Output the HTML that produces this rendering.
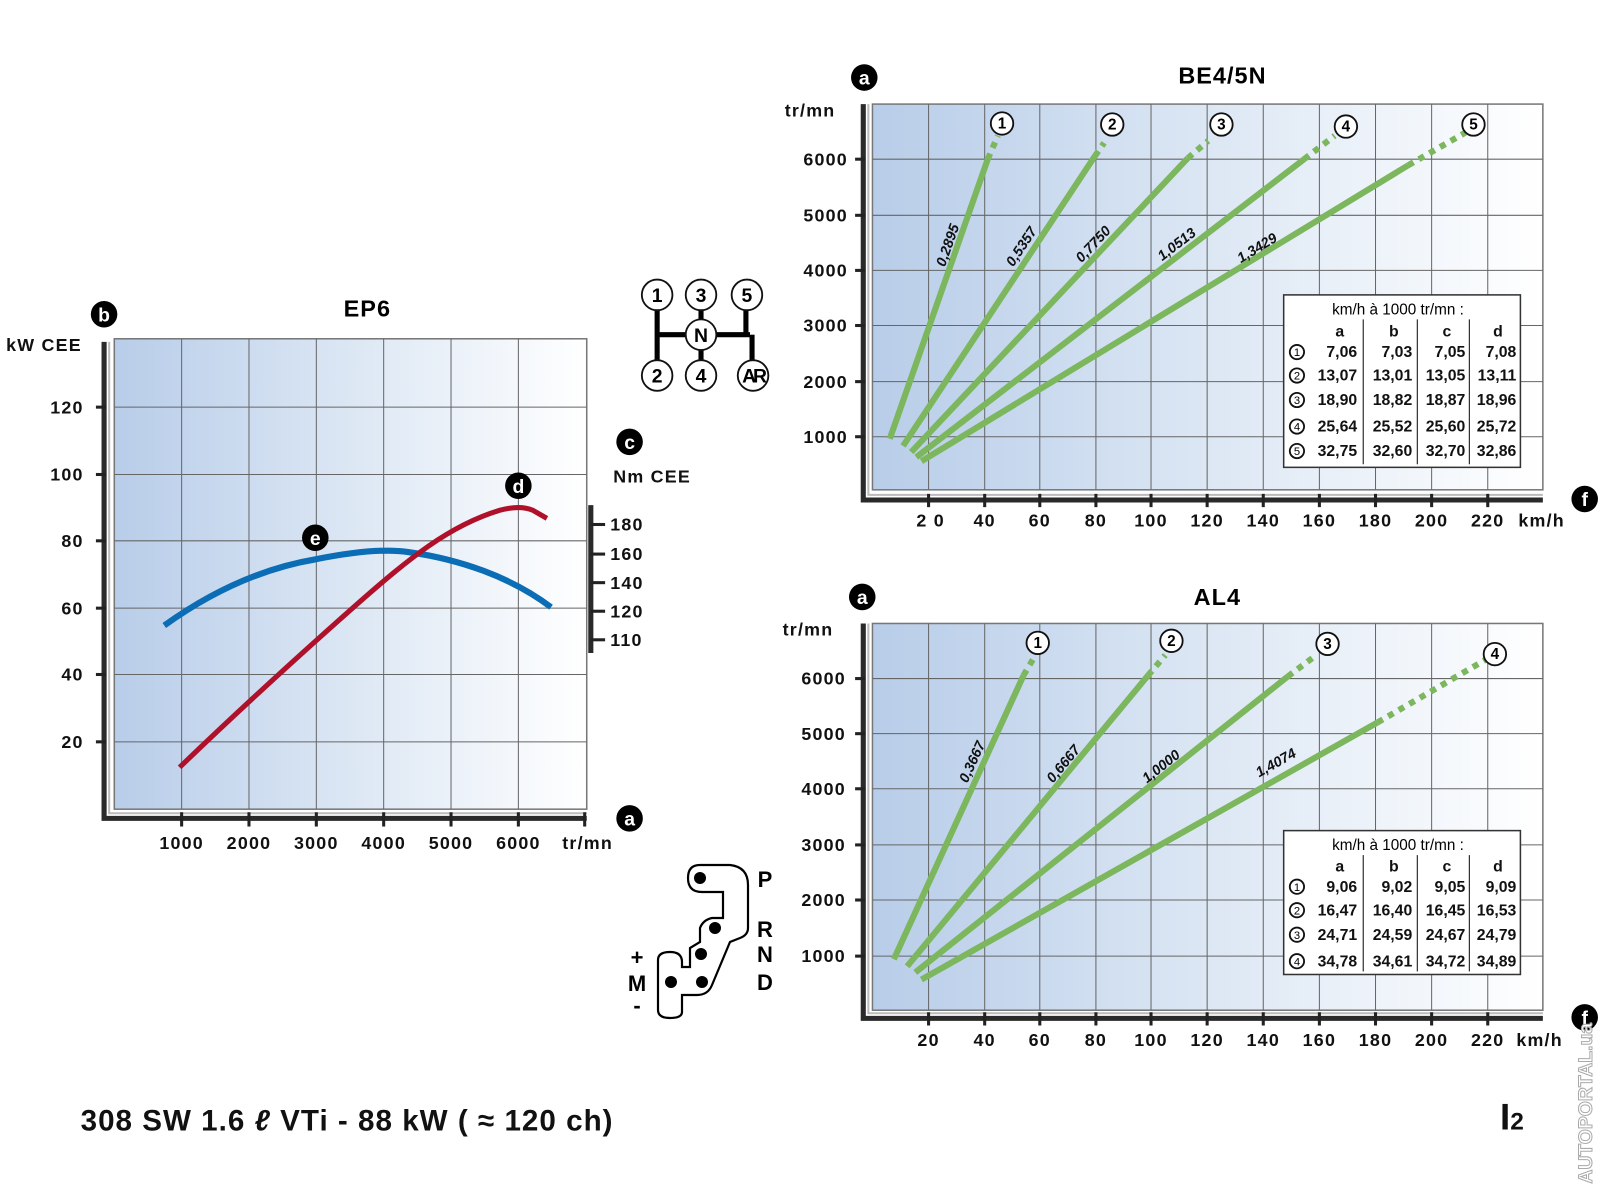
<!DOCTYPE html>
<html><head><meta charset="utf-8"><style>
html,body{margin:0;padding:0;background:#fff;}
svg{display:block;font-family:"Liberation Sans",Arial,sans-serif;}
.t{font-weight:bold;font-size:17.5px;fill:#111;letter-spacing:1.2px;}
.g{stroke:#666;stroke-width:1;}
.ax{stroke:#2a2a2a;stroke-width:5;fill:none;}
.ax2{stroke:#bbb;stroke-width:2;fill:none;}
.gr{stroke:#7cb65d;stroke-width:6;stroke-linecap:butt;fill:none;}
.gd{stroke:#7cb65d;stroke-width:6;stroke-dasharray:6 6;fill:none;}
.lb{font-size:14px;font-style:italic;font-weight:bold;fill:#111;}
.tb{font-size:15.5px;font-weight:bold;fill:#111;}
.cn{fill:#fff;stroke:#111;stroke-width:1.8;}
</style></head><body>
<svg width="1600" height="1200" viewBox="0 0 1568 1176" xmlns="http://www.w3.org/2000/svg">
<defs>
<linearGradient id="bg" x1="0" y1="0" x2="1" y2="0">
<stop offset="0" stop-color="#b8cde9"/><stop offset="0.5" stop-color="#dce7f4"/><stop offset="1" stop-color="#ffffff"/>
</linearGradient>
</defs>
<rect width="1568" height="1176" fill="#fff"/>

<!-- ===== EP6 ===== -->
<rect x="112" y="332" width="463" height="461" fill="url(#bg)" stroke="#777" stroke-width="1.5"/>
<g class="g">
<line x1="178" y1="332" x2="178" y2="793"/><line x1="244" y1="332" x2="244" y2="793"/><line x1="310" y1="332" x2="310" y2="793"/><line x1="376" y1="332" x2="376" y2="793"/><line x1="442" y1="332" x2="442" y2="793"/><line x1="508" y1="332" x2="508" y2="793"/>
<line x1="112" y1="399" x2="575" y2="399"/><line x1="112" y1="465" x2="575" y2="465"/><line x1="112" y1="530" x2="575" y2="530"/><line x1="112" y1="596" x2="575" y2="596"/><line x1="112" y1="661" x2="575" y2="661"/><line x1="112" y1="727" x2="575" y2="727"/>
</g>
<polyline class="ax" points="102,335 102,802 575,802"/>
<polyline class="ax2" points="107,335 107,797 575,797"/>
<g stroke="#222" stroke-width="3">
<line x1="94" y1="399" x2="104" y2="399"/><line x1="94" y1="465" x2="104" y2="465"/><line x1="94" y1="530" x2="104" y2="530"/><line x1="94" y1="596" x2="104" y2="596"/><line x1="94" y1="661" x2="104" y2="661"/><line x1="94" y1="727" x2="104" y2="727"/>
<line x1="178" y1="796" x2="178" y2="810"/><line x1="244" y1="796" x2="244" y2="810"/><line x1="310" y1="796" x2="310" y2="810"/><line x1="376" y1="796" x2="376" y2="810"/><line x1="442" y1="796" x2="442" y2="810"/><line x1="508" y1="796" x2="508" y2="810"/><line x1="573" y1="796" x2="573" y2="810"/>
</g>
<g class="t" text-anchor="end">
<text x="82" y="405">120</text><text x="82" y="471">100</text><text x="82" y="536">80</text><text x="82" y="602">60</text><text x="82" y="667">40</text><text x="82" y="733">20</text>
</g>
<text class="t" x="6" y="344">kW CEE</text>
<g class="t" text-anchor="middle">
<text x="178" y="832">1000</text><text x="244" y="832">2000</text><text x="310" y="832">3000</text><text x="376" y="832">4000</text><text x="442" y="832">5000</text><text x="508" y="832">6000</text>
</g>
<text class="t" x="551" y="832">tr/mn</text>
<text x="360" y="310" text-anchor="middle" style="font-weight:bold;font-size:23px;letter-spacing:1px">EP6</text>
<!-- right axis -->
<line x1="579" y1="495" x2="579" y2="640" stroke="#2a2a2a" stroke-width="5"/>
<g stroke="#222" stroke-width="3"><line x1="579" y1="514" x2="593" y2="514"/><line x1="579" y1="543" x2="593" y2="543"/><line x1="579" y1="571" x2="593" y2="571"/><line x1="579" y1="599" x2="593" y2="599"/><line x1="579" y1="627" x2="593" y2="627"/></g>
<g class="t"><text x="598" y="520">180</text><text x="598" y="549">160</text><text x="598" y="577">140</text><text x="598" y="605">120</text><text x="598" y="633">110</text></g>
<text class="t" x="601" y="473">Nm CEE</text>
<!-- curves -->
<path d="M161,613 C200,585 250,558 310,548 C350,540 380,538 400,541 C450,548 500,565 540,595" fill="none" stroke="#0a6db5" stroke-width="6"/>
<path d="M176,752 C230,700 290,645 350,592 C400,548 440,515 490,500 C505,496 515,497 522,500 L536,508" fill="none" stroke="#b0112a" stroke-width="5"/>
<!-- letter badges -->
<g style="font-weight:bold;font-size:19px" text-anchor="middle">
<circle cx="102" cy="308" r="13" fill="#000"/><text x="102" y="315" fill="#fff">b</text>
<circle cx="617" cy="433" r="13" fill="#000"/><text x="617" y="440" fill="#fff">c</text>
<circle cx="617" cy="802" r="13" fill="#000"/><text x="617" y="809" fill="#fff">a</text>
<circle cx="508" cy="476" r="13" fill="#000"/><text x="508" y="483" fill="#fff">d</text>
<circle cx="309" cy="527" r="13" fill="#000"/><text x="309" y="534" fill="#fff">e</text>
<circle cx="847" cy="76" r="13" fill="#000"/><text x="847" y="83" fill="#fff">a</text>
<circle cx="845" cy="585" r="13" fill="#000"/><text x="845" y="592" fill="#fff">a</text>
<circle cx="1553" cy="489" r="13" fill="#000"/><text x="1553" y="496" fill="#fff">f</text>
<circle cx="1553" cy="997" r="13" fill="#000"/><text x="1553" y="1004" fill="#fff">f</text>
</g>

<!-- manual shifter -->
<g stroke="#000" stroke-width="5" fill="none">
<line x1="644" y1="300" x2="644" y2="356"/><line x1="644" y1="328" x2="735" y2="328"/><line x1="687" y1="300" x2="687" y2="356"/><line x1="731" y1="300" x2="731" y2="328"/><line x1="737" y1="328" x2="737" y2="356"/>
</g>
<g style="font-weight:bold;font-size:19px" text-anchor="middle">
<circle class="cn" cx="644" cy="289" r="15"/><text x="644" y="296">1</text>
<circle class="cn" cx="687" cy="289" r="15"/><text x="687" y="296">3</text>
<circle class="cn" cx="732" cy="289" r="15"/><text x="732" y="296">5</text>
<circle class="cn" cx="687" cy="328" r="15"/><text x="687" y="335">N</text>
<circle class="cn" cx="644" cy="368" r="15"/><text x="644" y="375">2</text>
<circle class="cn" cx="687" cy="368" r="15"/><text x="687" y="375">4</text>
<circle class="cn" cx="738" cy="368" r="15"/><text x="738" y="375" style="letter-spacing:-3px">AR</text>
</g>

<!-- automatic shifter -->
<g transform="scale(0.98)">
<path d="M700,865 L730,865 Q748,867 748,885 L748,928 Q748,935 740,938 L730,942 L712,985 Q708,995 697,995 L682,995 L682,1012 Q682,1018 670,1018 Q658,1018 658,1010 L658,960 Q658,952 670,952 Q682,952 682,962 L682,967 L690,967 L690,948 L700,942 L700,928 Q703,920 712,918 L723,918 L723,892 L702,892 Q688,892 688,878 Q688,865 700,865 Z" fill="none" stroke="#000" stroke-width="2.2"/>
<circle cx="700" cy="878" r="6"/><circle cx="715" cy="928" r="6"/><circle cx="701" cy="954" r="6"/><circle cx="671" cy="982" r="6"/><circle cx="702" cy="982" r="6"/>
<g style="font-weight:bold;font-size:22px" text-anchor="middle">
<text x="765" y="887">P</text><text x="765" y="937">R</text><text x="765" y="962">N</text><text x="765" y="990">D</text>
<text x="637" y="965">+</text><text x="637" y="991">M</text><text x="637" y="1013">-</text>
</g>
</g>

<!-- ===== BE4/5N ===== -->
<rect x="855" y="102" width="657" height="378" fill="url(#bg)" stroke="#777" stroke-width="1.5"/>
<g class="g">
<line x1="910" y1="102" x2="910" y2="480"/><line x1="965" y1="102" x2="965" y2="480"/><line x1="1019" y1="102" x2="1019" y2="480"/><line x1="1074" y1="102" x2="1074" y2="480"/><line x1="1128" y1="102" x2="1128" y2="480"/><line x1="1183" y1="102" x2="1183" y2="480"/><line x1="1238" y1="102" x2="1238" y2="480"/><line x1="1293" y1="102" x2="1293" y2="480"/><line x1="1348" y1="102" x2="1348" y2="480"/><line x1="1403" y1="102" x2="1403" y2="480"/><line x1="1458" y1="102" x2="1458" y2="480"/>
<line x1="855" y1="156" x2="1512" y2="156"/><line x1="855" y1="211" x2="1512" y2="211"/><line x1="855" y1="265" x2="1512" y2="265"/><line x1="855" y1="319" x2="1512" y2="319"/><line x1="855" y1="374" x2="1512" y2="374"/><line x1="855" y1="428" x2="1512" y2="428"/>
</g>
<polyline class="ax" points="846,102 846,490 1512,490"/>
<polyline class="ax2" points="851,102 851,485 1512,485"/>
<g stroke="#222" stroke-width="3">
<line x1="838" y1="156" x2="848" y2="156"/><line x1="838" y1="211" x2="848" y2="211"/><line x1="838" y1="265" x2="848" y2="265"/><line x1="838" y1="319" x2="848" y2="319"/><line x1="838" y1="374" x2="848" y2="374"/><line x1="838" y1="428" x2="848" y2="428"/>
<line x1="910" y1="484" x2="910" y2="497"/><line x1="965" y1="484" x2="965" y2="497"/><line x1="1019" y1="484" x2="1019" y2="497"/><line x1="1074" y1="484" x2="1074" y2="497"/><line x1="1128" y1="484" x2="1128" y2="497"/><line x1="1183" y1="484" x2="1183" y2="497"/><line x1="1238" y1="484" x2="1238" y2="497"/><line x1="1293" y1="484" x2="1293" y2="497"/><line x1="1348" y1="484" x2="1348" y2="497"/><line x1="1403" y1="484" x2="1403" y2="497"/><line x1="1458" y1="484" x2="1458" y2="497"/>
</g>
<g class="t" text-anchor="end">
<text x="831" y="162">6000</text><text x="831" y="217">5000</text><text x="831" y="271">4000</text><text x="831" y="325">3000</text><text x="831" y="380">2000</text><text x="831" y="434">1000</text>
</g>
<text class="t" x="769" y="114">tr/mn</text>
<g class="t" text-anchor="middle">
<text x="912" y="516">2 0</text><text x="965" y="516">40</text><text x="1019" y="516">60</text><text x="1074" y="516">80</text><text x="1128" y="516">100</text><text x="1183" y="516">120</text><text x="1238" y="516">140</text><text x="1293" y="516">160</text><text x="1348" y="516">180</text><text x="1403" y="516">200</text><text x="1458" y="516">220</text>
</g>
<text class="t" x="1488" y="516">km/h</text>
<text x="1198" y="82" text-anchor="middle" style="font-weight:bold;font-size:23px;letter-spacing:1px">BE4/5N</text>
<line class="gr" x1="872" y1="430" x2="968" y2="156"/><line class="gd" x1="968" y1="156" x2="978" y2="133"/>
<line class="gr" x1="885" y1="437" x2="1073" y2="153"/><line class="gd" x1="1073" y1="153" x2="1082" y2="140"/>
<line class="gr" x1="893" y1="443" x2="1164" y2="155"/><line class="gd" x1="1164" y1="155" x2="1184" y2="138"/>
<line class="gr" x1="898" y1="448" x2="1278" y2="156"/><line class="gd" x1="1278" y1="156" x2="1308" y2="133"/>
<line class="gr" x1="903" y1="452" x2="1380" y2="162"/><line class="gd" x1="1380" y1="162" x2="1436" y2="130"/>
<g class="lb">
<text transform="translate(926,262) rotate(-70.7)">0,2895</text>
<text transform="translate(993,262) rotate(-56.5)">0,5357</text>
<text transform="translate(1060,258) rotate(-46.7)">0,7750</text>
<text transform="translate(1139,256) rotate(-37.5)">1,0513</text>
<text transform="translate(1216,258) rotate(-31.3)">1,3429</text>
</g>
<g style="font-weight:bold;font-size:15px" text-anchor="middle">
<circle class="cn" cx="982" cy="121" r="11"/><text x="982" y="126">1</text>
<circle class="cn" cx="1090" cy="122" r="11"/><text x="1090" y="127">2</text>
<circle class="cn" cx="1197" cy="122" r="11"/><text x="1197" y="127">3</text>
<circle class="cn" cx="1319" cy="124" r="11"/><text x="1319" y="129">4</text>
<circle class="cn" cx="1444" cy="122" r="11"/><text x="1444" y="127">5</text>
</g>
<!-- table 1 -->
<rect x="1258" y="289" width="232" height="169" fill="#fff" stroke="#333" stroke-width="1.5"/>
<text x="1370" y="308" text-anchor="middle" style="font-size:15px">km/h à 1000 tr/mn :</text>
<g stroke="#333" stroke-width="1.2"><line x1="1336" y1="313" x2="1336" y2="455"/><line x1="1389" y1="313" x2="1389" y2="455"/><line x1="1440" y1="313" x2="1440" y2="455"/></g>
<g class="tb" text-anchor="middle"><text x="1313" y="330">a</text><text x="1366" y="330">b</text><text x="1418" y="330">c</text><text x="1468" y="330">d</text></g>
<g style="font-size:11px" text-anchor="middle">
<circle class="cn" cx="1271" cy="345" r="7" stroke-width="1.2"/><text x="1271" y="349">1</text>
<circle class="cn" cx="1271" cy="368" r="7" stroke-width="1.2"/><text x="1271" y="372">2</text>
<circle class="cn" cx="1271" cy="392" r="7" stroke-width="1.2"/><text x="1271" y="396">3</text>
<circle class="cn" cx="1271" cy="418" r="7" stroke-width="1.2"/><text x="1271" y="422">4</text>
<circle class="cn" cx="1271" cy="442" r="7" stroke-width="1.2"/><text x="1271" y="446">5</text>
</g>
<g class="tb" text-anchor="end">
<text x="1330" y="350">7,06</text><text x="1384" y="350">7,03</text><text x="1436" y="350">7,05</text><text x="1486" y="350">7,08</text>
<text x="1330" y="373">13,07</text><text x="1384" y="373">13,01</text><text x="1436" y="373">13,05</text><text x="1486" y="373">13,11</text>
<text x="1330" y="397">18,90</text><text x="1384" y="397">18,82</text><text x="1436" y="397">18,87</text><text x="1486" y="397">18,96</text>
<text x="1330" y="423">25,64</text><text x="1384" y="423">25,52</text><text x="1436" y="423">25,60</text><text x="1486" y="423">25,72</text>
<text x="1330" y="447">32,75</text><text x="1384" y="447">32,60</text><text x="1436" y="447">32,70</text><text x="1486" y="447">32,86</text>
</g>

<!-- ===== AL4 ===== -->
<rect x="855" y="611" width="657" height="379" fill="url(#bg)" stroke="#777" stroke-width="1.5"/>
<g class="g">
<line x1="910" y1="611" x2="910" y2="990"/><line x1="965" y1="611" x2="965" y2="990"/><line x1="1019" y1="611" x2="1019" y2="990"/><line x1="1074" y1="611" x2="1074" y2="990"/><line x1="1128" y1="611" x2="1128" y2="990"/><line x1="1183" y1="611" x2="1183" y2="990"/><line x1="1238" y1="611" x2="1238" y2="990"/><line x1="1293" y1="611" x2="1293" y2="990"/><line x1="1348" y1="611" x2="1348" y2="990"/><line x1="1403" y1="611" x2="1403" y2="990"/><line x1="1458" y1="611" x2="1458" y2="990"/>
<line x1="855" y1="665" x2="1512" y2="665"/><line x1="855" y1="719" x2="1512" y2="719"/><line x1="855" y1="773" x2="1512" y2="773"/><line x1="855" y1="828" x2="1512" y2="828"/><line x1="855" y1="882" x2="1512" y2="882"/><line x1="855" y1="937" x2="1512" y2="937"/>
</g>
<polyline class="ax" points="846,611 846,998 1512,998"/>
<polyline class="ax2" points="851,611 851,993 1512,993"/>
<g stroke="#222" stroke-width="3">
<line x1="838" y1="665" x2="848" y2="665"/><line x1="838" y1="719" x2="848" y2="719"/><line x1="838" y1="773" x2="848" y2="773"/><line x1="838" y1="828" x2="848" y2="828"/><line x1="838" y1="882" x2="848" y2="882"/><line x1="838" y1="937" x2="848" y2="937"/>
<line x1="910" y1="992" x2="910" y2="1005"/><line x1="965" y1="992" x2="965" y2="1005"/><line x1="1019" y1="992" x2="1019" y2="1005"/><line x1="1074" y1="992" x2="1074" y2="1005"/><line x1="1128" y1="992" x2="1128" y2="1005"/><line x1="1183" y1="992" x2="1183" y2="1005"/><line x1="1238" y1="992" x2="1238" y2="1005"/><line x1="1293" y1="992" x2="1293" y2="1005"/><line x1="1348" y1="992" x2="1348" y2="1005"/><line x1="1403" y1="992" x2="1403" y2="1005"/><line x1="1458" y1="992" x2="1458" y2="1005"/>
</g>
<g class="t" text-anchor="end">
<text x="829" y="671">6000</text><text x="829" y="725">5000</text><text x="829" y="779">4000</text><text x="829" y="834">3000</text><text x="829" y="888">2000</text><text x="829" y="943">1000</text>
</g>
<text class="t" x="767" y="623">tr/mn</text>
<g class="t" text-anchor="middle">
<text x="910" y="1025">20</text><text x="965" y="1025">40</text><text x="1019" y="1025">60</text><text x="1074" y="1025">80</text><text x="1128" y="1025">100</text><text x="1183" y="1025">120</text><text x="1238" y="1025">140</text><text x="1293" y="1025">160</text><text x="1348" y="1025">180</text><text x="1403" y="1025">200</text><text x="1458" y="1025">220</text>
</g>
<text class="t" x="1486" y="1025">km/h</text>
<text x="1193" y="593" text-anchor="middle" style="font-weight:bold;font-size:23px;letter-spacing:1px">AL4</text>
<line class="gr" x1="876" y1="940" x2="1003" y2="662"/><line class="gd" x1="1003" y1="662" x2="1013" y2="645"/>
<line class="gr" x1="889" y1="947" x2="1125" y2="662"/><line class="gd" x1="1125" y1="662" x2="1142" y2="642"/>
<line class="gr" x1="897" y1="953" x2="1262" y2="663"/><line class="gd" x1="1262" y1="663" x2="1290" y2="642"/>
<line class="gr" x1="903" y1="960" x2="1350" y2="708"/><line class="gd" x1="1350" y1="708" x2="1455" y2="647"/>
<g class="lb">
<text transform="translate(948,768) rotate(-65.4)">0,3667</text>
<text transform="translate(1032,768) rotate(-50.4)">0,6667</text>
<text transform="translate(1124,768) rotate(-38.5)">1,0000</text>
<text transform="translate(1234,762) rotate(-29.4)">1,4074</text>
</g>
<g style="font-weight:bold;font-size:15px" text-anchor="middle">
<circle class="cn" cx="1017" cy="630" r="11"/><text x="1017" y="635">1</text>
<circle class="cn" cx="1148" cy="628" r="11"/><text x="1148" y="633">2</text>
<circle class="cn" cx="1301" cy="631" r="11"/><text x="1301" y="636">3</text>
<circle class="cn" cx="1465" cy="641" r="11"/><text x="1465" y="646">4</text>
</g>
<!-- table 2 -->
<rect x="1258" y="814" width="232" height="141" fill="#fff" stroke="#333" stroke-width="1.5"/>
<text x="1370" y="833" text-anchor="middle" style="font-size:15px">km/h à 1000 tr/mn :</text>
<g stroke="#333" stroke-width="1.2"><line x1="1336" y1="838" x2="1336" y2="952"/><line x1="1389" y1="838" x2="1389" y2="952"/><line x1="1440" y1="838" x2="1440" y2="952"/></g>
<g class="tb" text-anchor="middle"><text x="1313" y="854">a</text><text x="1366" y="854">b</text><text x="1418" y="854">c</text><text x="1468" y="854">d</text></g>
<g style="font-size:11px" text-anchor="middle">
<circle class="cn" cx="1271" cy="869" r="7" stroke-width="1.2"/><text x="1271" y="873">1</text>
<circle class="cn" cx="1271" cy="892" r="7" stroke-width="1.2"/><text x="1271" y="896">2</text>
<circle class="cn" cx="1271" cy="916" r="7" stroke-width="1.2"/><text x="1271" y="920">3</text>
<circle class="cn" cx="1271" cy="942" r="7" stroke-width="1.2"/><text x="1271" y="946">4</text>
</g>
<g class="tb" text-anchor="end">
<text x="1330" y="874">9,06</text><text x="1384" y="874">9,02</text><text x="1436" y="874">9,05</text><text x="1486" y="874">9,09</text>
<text x="1330" y="897">16,47</text><text x="1384" y="897">16,40</text><text x="1436" y="897">16,45</text><text x="1486" y="897">16,53</text>
<text x="1330" y="921">24,71</text><text x="1384" y="921">24,59</text><text x="1436" y="921">24,67</text><text x="1486" y="921">24,79</text>
<text x="1330" y="947">34,78</text><text x="1384" y="947">34,61</text><text x="1436" y="947">34,72</text><text x="1486" y="947">34,89</text>
</g>

<!-- footer -->
<text x="79" y="1108" style="font-weight:bold;font-size:29px;fill:#111;letter-spacing:1px">308 SW 1.6 <tspan style="font-style:italic">ℓ</tspan> VTi - 88 kW ( ≈ 120 ch)</text>
<text x="1470" y="1107" style="font-weight:bold;font-size:36px;fill:#111">I<tspan style="font-size:24px">2</tspan></text>
<text transform="translate(1560,1160) rotate(-90)" style="font-weight:bold;font-size:19px;fill:#fff;stroke:#aaa;stroke-width:1">AUTOPORTAL.ua</text>
</svg>
</body></html>
